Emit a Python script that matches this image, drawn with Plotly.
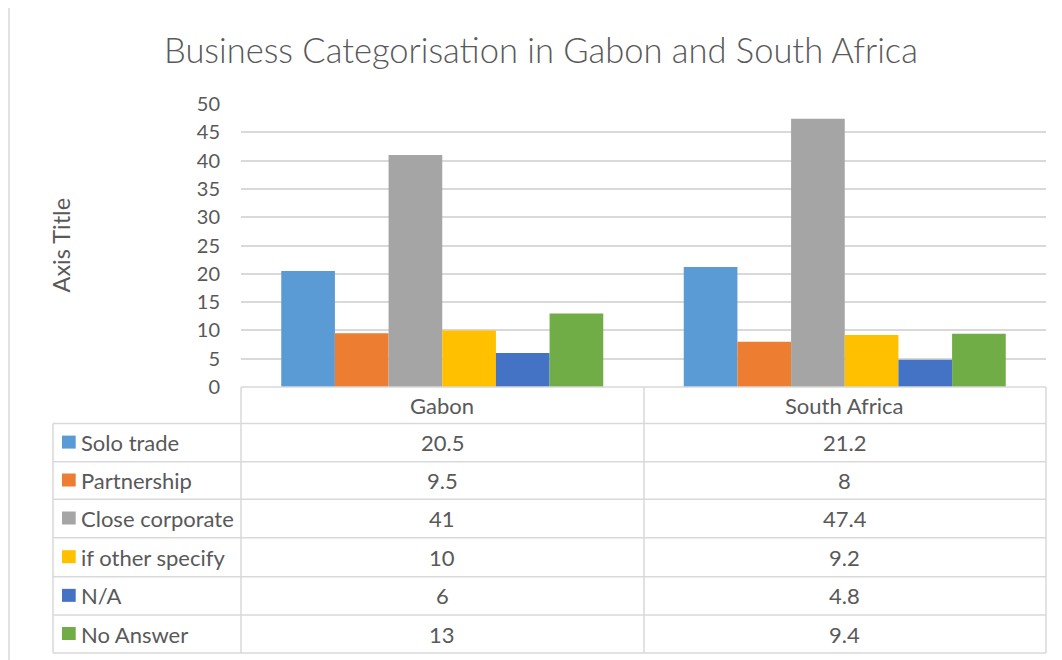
import plotly.graph_objects as go

# ---- data ----
categories = ["Gabon", "South Africa"]
series_names = ["Solo trade", "Partnership", "Close corporate", "if other specify", "N/A", "No Answer"]
solo_trade = [20.5, 21.2]
partnership = [9.5, 8]
close_corporate = [41, 47.4]
if_other_specify = [10, 9.2]
n_a = [6, 4.8]
no_answer = [13, 9.4]
y_ticks = [0, 5, 10, 15, 20, 25, 30, 35, 40, 45, 50]
title_text = "Business Categorisation in Gabon and South Africa"
y_title = "Axis Title"

series_values = [solo_trade, partnership, close_corporate, if_other_specify, n_a, no_answer]
colors = ["#5B9BD5", "#ED7D31", "#A5A5A5", "#FFC000", "#4472C4", "#70AD47"]

W, H = 1062, 660
OFF = 8  # page body margin offset
FONT = "Lato"
TXT = "#595959"
LINE = "#D9D9D9"
TS = 22  # table font size

# plot area in screen pixels
PL, PR, PT, PB = 241, 1046, 104, 387


def px(x):
    return (x - PL) / (PR - PL)


def py(y):
    return (PB - y) / (PB - PT)


fig = go.Figure()
for name, vals, col in zip(series_names, series_values, colors):
    fig.add_trace(go.Bar(x=categories, y=vals, name=name, marker=dict(color=col, line=dict(width=0)),
                         showlegend=False))

shapes = []
annotations = []

# outer chart border
shapes.append(dict(type="rect", xref="paper", yref="paper", x0=px(9), x1=px(1080), y0=py(680), y1=py(7),
                   line=dict(color=LINE, width=1.5), fillcolor="rgba(0,0,0,0)", layer="below"))

# data table geometry
row_edges = [423.5, 461.7, 499.3, 537.7, 576.7, 615, 653]
col_label_l, col_label_r = 53, PL
col_mid = 644
col_r = PR

shapes.append(dict(type="line", xref="paper", yref="paper", x0=px(PL), x1=px(col_r), y0=py(PB), y1=py(PB),
                   line=dict(color=LINE, width=1.5)))
for yy in row_edges:
    shapes.append(dict(type="line", xref="paper", yref="paper", x0=px(col_label_l), x1=px(col_r), y0=py(yy), y1=py(yy),
                       line=dict(color=LINE, width=1.5)))
for xx, ytop in [(col_label_l, row_edges[0]), (col_label_r, PB), (col_mid, PB), (col_r, PB)]:
    shapes.append(dict(type="line", xref="paper", yref="paper", x0=px(xx), x1=px(xx), y0=py(ytop), y1=py(row_edges[-1]),
                       line=dict(color=LINE, width=1.5)))

for cat in categories:
    annotations.append(dict(x=cat, y=py((PB + row_edges[0]) / 2), xref="x", yref="paper", text=cat,
                            showarrow=False, xanchor="center", yanchor="middle",
                            font=dict(family=FONT, size=TS, color=TXT)))

for i, (name, vals, col) in enumerate(zip(series_names, series_values, colors)):
    y0, y1 = row_edges[i], row_edges[i + 1]
    yc = (y0 + y1) / 2
    shapes.append(dict(type="rect", xref="paper", yref="paper", x0=px(62), x1=px(75.7), y0=py(yc + 6), y1=py(yc - 7),
                       line=dict(width=0), fillcolor=col))
    annotations.append(dict(x=px(79), y=py(yc), xref="paper", yref="paper", text=name, showarrow=False,
                            xanchor="left", yanchor="middle", font=dict(family=FONT, size=TS, color=TXT)))
    for cat, v in zip(categories, vals):
        annotations.append(dict(x=cat, y=py(yc), xref="x", yref="paper", text=f"{v:g}", showarrow=False,
                                xanchor="center", yanchor="middle", font=dict(family=FONT, size=TS, color=TXT)))

annotations.append(dict(x=px(541), y=py(50), xref="paper", yref="paper", text=title_text, showarrow=False,
                        xanchor="center", yanchor="middle",
                        font=dict(family=FONT, size=34.5, color=TXT, weight=300)))
annotations.append(dict(x=px(60), y=py((PT + PB) / 2), xref="paper", yref="paper", text=y_title, showarrow=False,
                        textangle=-90, xanchor="center", yanchor="middle",
                        font=dict(family=FONT, size=23.5, color=TXT)))

fig.update_layout(
    width=W, height=H,
    margin=dict(l=PL - OFF, r=W - (PR - OFF), t=PT - OFF, b=H - (PB - OFF), pad=0),
    paper_bgcolor="white", plot_bgcolor="white",
    barmode="group", bargap=0.2, bargroupgap=0,
    shapes=shapes, annotations=annotations,
    font=dict(family=FONT, color=TXT),
)
fig.update_xaxes(showticklabels=False, showgrid=False, zeroline=False, showline=False, ticks="", automargin=False)
fig.update_yaxes(range=[0, 50], tickvals=y_ticks, showgrid=True, gridcolor=LINE, gridwidth=1.5,
                 zeroline=False, showline=False, ticks="", ticklabelstandoff=20, automargin=False,
                 tickfont=dict(family=FONT, size=20, color=TXT))

fig.write_html("out.html")
